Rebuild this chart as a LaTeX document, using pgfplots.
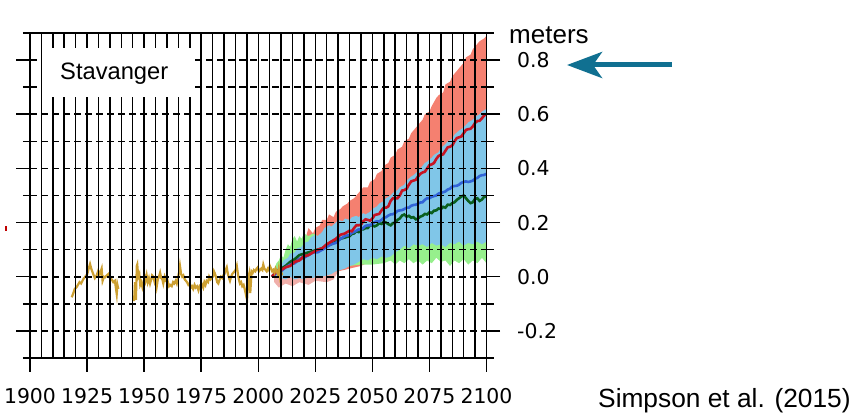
\documentclass[border=0pt]{standalone}
\usepackage{fontspec}
\setmainfont{Liberation Sans}
\setsansfont{DejaVu Sans}
\newfontfamily\dejavu{DejaVu Sans}
\usepackage{pgfplots}
\pgfplotsset{compat=1.18}
\usetikzlibrary{arrows.meta}
\definecolor{salmon}{RGB}{245,128,112}
\definecolor{pinkl}{RGB}{240,175,170}
\definecolor{skyb}{RGB}{128,198,232}
\definecolor{lgreen}{RGB}{150,240,140}
\definecolor{redl}{RGB}{200,20,35}
\definecolor{bluel}{RGB}{50,100,215}
\definecolor{greenl}{RGB}{10,95,30}
\definecolor{purpl}{RGB}{130,60,170}
\definecolor{goldl}{RGB}{205,160,50}
\definecolor{arrowc}{RGB}{16,112,145}
\pgfplotsset{frame/.style={
  at={(30pt,57pt)}, anchor=south west, scale only axis,
  width=456.5pt, height=325pt,
  xmin=1900, xmax=2100, ymin=-0.3, ymax=0.9}}
\begin{document}
\begin{tikzpicture}
\useasboundingbox (0,0) rectangle (851pt,415pt);
% ---------- data + horizontal dashed grid ----------
\begin{axis}[
  frame,
  axis on top,
  xtick=\empty,
  ytick={-0.2,-0.1,0,0.1,0.2,0.3,0.4,0.5,0.6,0.7,0.8},
  yticklabels={},
  ymajorgrids=true,
  major grid style={black, line width=1.6pt, dash pattern=on 7pt off 4pt},
  major tick length=0pt,
  axis line style={black, line width=1.5pt},
]
% red band
\addplot[fill=salmon, draw=none] coordinates {
(2007,0.0)(2008,0.03)(2010,0.06)(2012,0.07)(2013,0.09)(2015,0.10)(2016,0.12)(2018,0.11)(2019,0.14)(2021,0.15)(2022,0.18)(2024,0.16)(2025,0.18)(2027,0.19)(2028,0.21)(2030,0.21)(2031,0.23)(2033,0.22)(2034,0.24)(2036,0.25)(2037,0.26)(2039,0.27)(2040,0.28)(2042,0.29)(2043,0.30)(2045,0.32)(2046,0.33)(2048,0.33)(2049,0.35)(2051,0.36)(2052,0.38)(2054,0.39)(2055,0.41)(2057,0.42)(2058,0.44)(2060,0.45)(2061,0.47)(2063,0.48)(2064,0.50)(2066,0.51)(2067,0.53)(2069,0.55)(2070,0.56)(2072,0.58)(2073,0.60)(2075,0.61)(2076,0.63)(2078,0.66)(2079,0.67)(2081,0.68)(2082,0.71)(2084,0.72)(2085,0.74)(2087,0.76)(2088,0.77)(2090,0.79)(2091,0.81)(2093,0.82)(2094,0.84)(2096,0.86)(2097,0.87)(2099,0.88)(2100,0.89)
(2100,0.20)(2080,0.15)(2060,0.10)(2045,0.04)(2035,0.02)(2030,0.0)(2025,0.0)(2007,0.0)
} -- cycle;
% faded lower part of the red band
\addplot[fill=pinkl, draw=none] coordinates {
(2007,0.0)(2035,0.02)(2033,-0.01)(2030,-0.02)(2025,-0.015)(2022,-0.03)(2018,-0.02)(2015,-0.035)(2012,-0.025)(2009,-0.04)(2007,-0.02)
} -- cycle;
% green band
\addplot[fill=lgreen, draw=none] coordinates {
(2006,0.0)(2007,0.03)(2008,0.05)(2009,0.06)(2010,0.08)(2011,0.07)(2012,0.10)(2013,0.12)(2014,0.11)(2015,0.14)(2016,0.15)(2017,0.13)(2018,0.15)(2019,0.14)(2020,0.16)(2022,0.15)(2024,0.16)(2026,0.15)(2028,0.16)(2030,0.17)(2040,0.19)(2060,0.22)(2100,0.30)
(2100,0.05)(2098,0.07)(2096,0.05)(2094,0.06)(2092,0.045)(2090,0.065)(2088,0.05)(2086,0.06)(2084,0.04)(2082,0.06)(2080,0.055)(2078,0.07)(2076,0.05)(2074,0.06)(2072,0.045)(2070,0.06)(2068,0.05)(2066,0.065)(2064,0.05)(2062,0.06)(2060,0.045)(2058,0.06)(2055,0.05)(2050,0.045)(2045,0.045)(2040,0.04)(2035,0.03)(2030,0.03)(2025,0.03)(2015,0.02)(2006,0.01)
} -- cycle;
% blue band
\addplot[fill=skyb, draw=none] coordinates {
(2006,0.0)(2007,0.02)(2008,0.03)(2010,0.04)(2011,0.06)(2013,0.07)(2014,0.085)(2016,0.09)(2017,0.105)(2019,0.11)(2020,0.125)(2022,0.13)(2023,0.145)(2025,0.155)(2026,0.15)(2028,0.165)(2029,0.18)(2031,0.19)(2032,0.185)(2034,0.20)(2035,0.21)(2037,0.205)(2038,0.215)(2040,0.21)(2041,0.22)(2043,0.225)(2044,0.22)(2046,0.235)(2047,0.23)(2049,0.24)(2050,0.25)(2052,0.26)(2053,0.27)(2055,0.28)(2056,0.29)(2058,0.30)(2059,0.31)(2061,0.32)(2062,0.33)(2064,0.34)(2065,0.355)(2067,0.37)(2068,0.375)(2070,0.39)(2071,0.40)(2073,0.42)(2074,0.425)(2076,0.44)(2077,0.45)(2079,0.46)(2080,0.475)(2082,0.49)(2083,0.50)(2085,0.51)(2086,0.525)(2088,0.54)(2089,0.545)(2091,0.56)(2092,0.57)(2094,0.58)(2095,0.59)(2097,0.60)(2098,0.61)(2100,0.62)
(2100,0.13)(2098,0.12)(2096,0.13)(2094,0.12)(2092,0.125)(2090,0.115)(2088,0.13)(2086,0.12)(2084,0.125)(2082,0.11)(2080,0.12)(2078,0.115)(2076,0.125)(2074,0.11)(2072,0.12)(2070,0.115)(2068,0.12)(2066,0.105)(2064,0.115)(2062,0.10)(2060,0.09)(2058,0.075)(2056,0.07)(2054,0.075)(2052,0.065)(2050,0.07)(2048,0.06)(2046,0.065)(2044,0.055)(2042,0.045)(2040,0.04)(2038,0.03)(2036,0.025)(2034,0.02)(2032,0.01)(2030,0.005)(2028,0.0)(2026,0.005)(2024,-0.005)(2022,0.0)(2020,-0.01)(2018,-0.005)(2016,-0.01)(2014,0.0)(2012,-0.01)(2010,-0.005)(2008,0.0)(2006,0.0)
} -- cycle;
% purple line
\addplot[purpl, line width=2.6pt] coordinates {
(2006,0.0)(2008,0.015)(2010,0.02)(2012,0.04)(2014,0.045)(2016,0.06)(2018,0.065)(2020,0.075)(2022,0.08)(2024,0.09)(2026,0.095)(2028,0.1)(2030,0.11)};
% green line
\addplot[greenl, line width=2.6pt] coordinates {
(2006,0.0)(2008,0.02)(2010,0.03)(2012,0.04)(2014,0.055)(2016,0.065)(2018,0.08)(2020,0.085)(2022,0.09)(2024,0.095)(2026,0.10)(2028,0.105)(2030,0.115)(2032,0.12)(2034,0.13)(2036,0.14)(2038,0.145)(2040,0.15)(2041,0.158)(2042,0.16)(2043,0.168)(2044,0.165)(2045,0.176)(2046,0.175)(2047,0.18)(2048,0.18)(2049,0.19)(2050,0.19)(2051,0.186)(2052,0.19)(2053,0.198)(2054,0.195)(2055,0.203)(2056,0.20)(2057,0.194)(2058,0.19)(2059,0.198)(2060,0.20)(2061,0.21)(2062,0.215)(2063,0.226)(2064,0.23)(2065,0.222)(2066,0.225)(2067,0.218)(2068,0.22)(2069,0.212)(2070,0.215)(2071,0.222)(2072,0.225)(2073,0.232)(2074,0.23)(2075,0.238)(2076,0.235)(2077,0.244)(2078,0.245)(2079,0.252)(2080,0.25)(2081,0.258)(2082,0.255)(2083,0.266)(2084,0.265)(2085,0.272)(2086,0.275)(2087,0.284)(2088,0.29)(2089,0.296)(2090,0.30)(2091,0.29)(2092,0.28)(2093,0.272)(2094,0.275)(2095,0.288)(2096,0.29)(2097,0.28)(2098,0.285)(2099,0.296)(2100,0.295)};
% blue line
\addplot[bluel, line width=2.6pt] coordinates {
(2006,0.0)(2008,0.015)(2010,0.02)(2012,0.035)(2014,0.045)(2016,0.05)(2018,0.065)(2020,0.07)(2022,0.08)(2024,0.09)(2026,0.09)(2028,0.10)(2030,0.11)(2032,0.12)(2034,0.125)(2036,0.14)(2038,0.15)(2040,0.155)(2041,0.162)(2042,0.165)(2043,0.17)(2044,0.175)(2045,0.174)(2046,0.18)(2047,0.188)(2048,0.19)(2049,0.19)(2050,0.195)(2051,0.202)(2052,0.205)(2053,0.204)(2054,0.21)(2055,0.218)(2056,0.22)(2057,0.226)(2058,0.23)(2059,0.231)(2060,0.235)(2061,0.243)(2062,0.245)(2063,0.246)(2064,0.25)(2065,0.255)(2066,0.255)(2067,0.262)(2068,0.265)(2069,0.266)(2070,0.27)(2071,0.274)(2072,0.275)(2073,0.284)(2074,0.29)(2075,0.29)(2076,0.295)(2077,0.298)(2078,0.30)(2079,0.307)(2080,0.31)(2081,0.312)(2082,0.315)(2083,0.322)(2084,0.325)(2085,0.333)(2086,0.335)(2087,0.336)(2088,0.34)(2089,0.347)(2090,0.35)(2091,0.352)(2092,0.35)(2093,0.352)(2094,0.355)(2095,0.362)(2096,0.365)(2097,0.372)(2098,0.375)(2099,0.376)(2100,0.38)};
% red line
\addplot[redl, line width=2.6pt] coordinates {
(2006,0.0)(2008,0.02)(2010,0.025)(2012,0.035)(2014,0.04)(2016,0.055)(2018,0.06)(2020,0.075)(2022,0.08)(2024,0.09)(2026,0.10)(2028,0.105)(2030,0.12)(2032,0.13)(2034,0.14)(2036,0.155)(2038,0.16)(2040,0.17)(2041,0.168)(2042,0.18)(2043,0.19)(2044,0.19)(2045,0.192)(2046,0.205)(2047,0.212)(2048,0.21)(2049,0.207)(2050,0.215)(2051,0.228)(2052,0.23)(2053,0.232)(2054,0.245)(2055,0.255)(2056,0.255)(2057,0.26)(2058,0.28)(2059,0.29)(2060,0.29)(2061,0.29)(2062,0.30)(2063,0.318)(2064,0.32)(2065,0.325)(2066,0.34)(2067,0.352)(2068,0.355)(2069,0.358)(2070,0.37)(2071,0.38)(2072,0.385)(2073,0.388)(2074,0.40)(2075,0.412)(2076,0.415)(2077,0.42)(2078,0.435)(2079,0.446)(2080,0.45)(2081,0.452)(2082,0.465)(2083,0.478)(2084,0.48)(2085,0.485)(2086,0.50)(2087,0.512)(2088,0.515)(2089,0.518)(2090,0.53)(2091,0.542)(2092,0.545)(2093,0.546)(2094,0.555)(2095,0.568)(2096,0.575)(2097,0.576)(2098,0.585)(2099,0.596)(2100,0.60)};
% observed (gold)
\addplot[goldl, line width=2.2pt] coordinates {
(1918.3,-0.076)(1919,-0.06)(1919.6,-0.045)(1920.4,-0.039)(1921,-0.03)(1921.7,-0.02)(1922.4,-0.025)(1923.4,-0.008)(1924.2,0.0)(1925.1,0.01)(1925.7,0.03)(1926.3,0.047)(1926.9,0.028)(1927.7,0.01)(1928.4,-0.005)(1929.2,0.005)(1929.9,0.022)(1930.6,0.01)(1931.4,0.03)(1931.8,-0.015)(1932.4,0.0)(1932.9,-0.002)(1933.6,0.005)(1934.3,0.01)(1935,-0.005)(1935.8,-0.01)(1936.5,-0.02)(1937.2,-0.015)(1938,-0.064)(1938.3,-0.03)(1938.7,-0.045)};
\addplot[goldl, line width=2.2pt] coordinates {
(1945.6,-0.09)(1946.0,-0.02)(1946.4,-0.085)(1946.8,0.04)(1947.0,0.045)(1947.4,0.0)(1947.9,0.01)(1948.3,-0.03)(1948.8,-0.02)(1949.3,-0.04)(1949.7,-0.03)(1950.2,0.0)(1950.6,-0.015)(1951.1,0.006)(1951.6,-0.02)(1952.1,-0.005)(1952.6,-0.025)(1953.1,-0.01)(1953.5,0.005)(1954.0,0.0)(1954.6,-0.02)(1955.0,-0.01)(1955.5,-0.037)(1956.0,-0.01)(1956.5,0.0)(1957.0,0.015)(1957.5,-0.005)(1958.0,-0.01)(1958.4,-0.025)(1959.0,0.0)(1959.4,-0.01)(1959.9,0.0)(1960.4,-0.02)(1960.9,-0.035)(1961.4,-0.03)(1962.1,-0.035)(1962.7,-0.02)(1963.2,-0.025)(1963.8,-0.015)(1964.3,-0.025)(1964.9,0.0)(1965.4,0.02)(1965.7,0.04)(1966.2,0.01)(1966.7,0.0)(1967.2,0.005)(1967.8,-0.01)(1968.3,-0.015)(1968.8,-0.02)(1969.4,-0.03)(1970.0,-0.025)(1970.5,-0.04)(1971.0,-0.035)(1971.5,-0.045)(1972.1,-0.03)(1972.6,-0.04)(1973.2,-0.035)(1973.8,-0.05)(1974.3,-0.035)(1974.8,-0.04)(1975.4,-0.03)(1975.9,-0.04)(1976.4,-0.02)(1976.9,-0.03)(1977.4,-0.015)(1978.0,-0.02)(1978.5,0.0)(1979.1,-0.01)(1979.6,-0.005)(1980.1,0.0)(1980.6,0.02)(1981.1,0.01)(1981.6,-0.005)(1982.0,-0.02)(1982.5,-0.025)(1983.1,-0.01)(1983.6,0.0)(1984.2,-0.005)(1984.7,0.005)(1985.2,0.01)(1985.7,0.025)(1986.2,0.035)(1986.7,0.01)(1987.2,-0.005)(1987.6,-0.015)(1988.1,0.0)(1988.6,0.01)(1989.1,0.015)(1989.6,0.02)(1990.1,0.025)(1990.6,0.04)(1991.1,0.01)(1991.5,-0.01)(1992.0,-0.025)(1992.5,-0.02)(1993.0,-0.035)(1993.6,-0.03)(1994.2,-0.05)(1994.7,-0.07)(1995.1,-0.085)(1995.6,-0.005)(1996.0,0.01)(1996.5,-0.06)(1997.1,0.02)(1997.6,0.015)(1998.1,0.025)(1998.7,0.02)(1999.3,0.03)(1999.8,0.035)(2000.3,0.02)(2000.8,0.025)(2001.3,0.03)(2001.8,0.025)(2002.2,0.045)(2002.7,0.03)(2003.2,0.025)(2003.7,0.02)(2004.2,0.03)(2004.6,0.025)(2005.1,0.04)(2005.6,0.03)(2006.1,0.02)(2006.6,0.025)(2007.1,0.015)(2007.6,0.03)(2008.1,0.02)(2008.6,0.01)(2009.0,0.03)(2009.5,0.0)(2010.0,0.02)(2010.5,0.005)};
\end{axis}
% ---------- vertical solid grid, drawn over the data ----------
\begin{axis}[
  frame,
  xtick={1905,1910,...,2095},
  xticklabels={},
  ytick=\empty,
  xmajorgrids=true,
  major grid style={black, line width=1.5pt, solid},
  major tick length=0pt,
  axis line style={draw=none},
]
\draw[line width=2.8pt] (rel axis cs:0,0) -- (rel axis cs:0,1);
\end{axis}
% ---------- y ticks and labels ----------
\begin{axis}[
  frame,
  axis line style={draw=none},
  xtick=\empty,
  ytick={-0.2,0,0.2,0.4,0.6,0.8},
  yticklabels={-0.2,0.0,0.2,0.4,0.6,0.8},
  minor ytick={-0.3,-0.1,0.1,0.3,0.5,0.7,0.9},
  ytick pos=both, yticklabel pos=right,
  tick align=outside,
  major tick length=13.5pt, minor tick length=7pt,
  tick style={black, line width=1.5pt},
  tick label style={font=\dejavu\fontsize{20.4}{24}\selectfont},
  yticklabel style={xshift=13.7pt},
]
\end{axis}
% ---------- x ticks (strip below the plot) and labels ----------
\begin{axis}[
  at={(30pt,43.5pt)}, anchor=south west, scale only axis,
  width=456.5pt, height=13.5pt,
  xmin=1900, xmax=2100, ymin=0, ymax=1,
  axis line style={draw=none},
  xtick={1900,1925,1950,1975,2000,2025,2050,2075,2100},
  ytick=\empty,
  xmajorgrids=true,
  major grid style={black, line width=1.5pt, solid},
  major tick length=0pt,
  /pgf/number format/1000 sep={},
  /pgf/number format/assume math mode=true,
  xticklabel style={font=\dejavu\fontsize{20.4}{24}\selectfont, yshift=-13pt},
]
\end{axis}
\fill[white] (41.7pt,318.3pt) rectangle (191.7pt,367.3pt);
\node[anchor=base west, inner sep=0pt, font=\fontsize{23.7}{28}\selectfont] at (60pt,335.3pt) {Stavanger};
\node[anchor=base west, inner sep=0pt, font=\fontsize{26}{30}\selectfont] at (509pt,371.5pt) {meters};
\node[anchor=base west, inner sep=0pt, font=\fontsize{26.3}{30}\selectfont] at (598pt,8pt) {Simpson et al. (2015)};
\draw[arrowc, line width=5pt, -{Stealth[length=35pt, width=26pt, inset=9pt]}] (672pt,350pt) -- (567pt,350pt);
\fill[red!75!black] (4.5pt,184pt) rectangle (6.5pt,189pt);
\end{tikzpicture}
\end{document}
